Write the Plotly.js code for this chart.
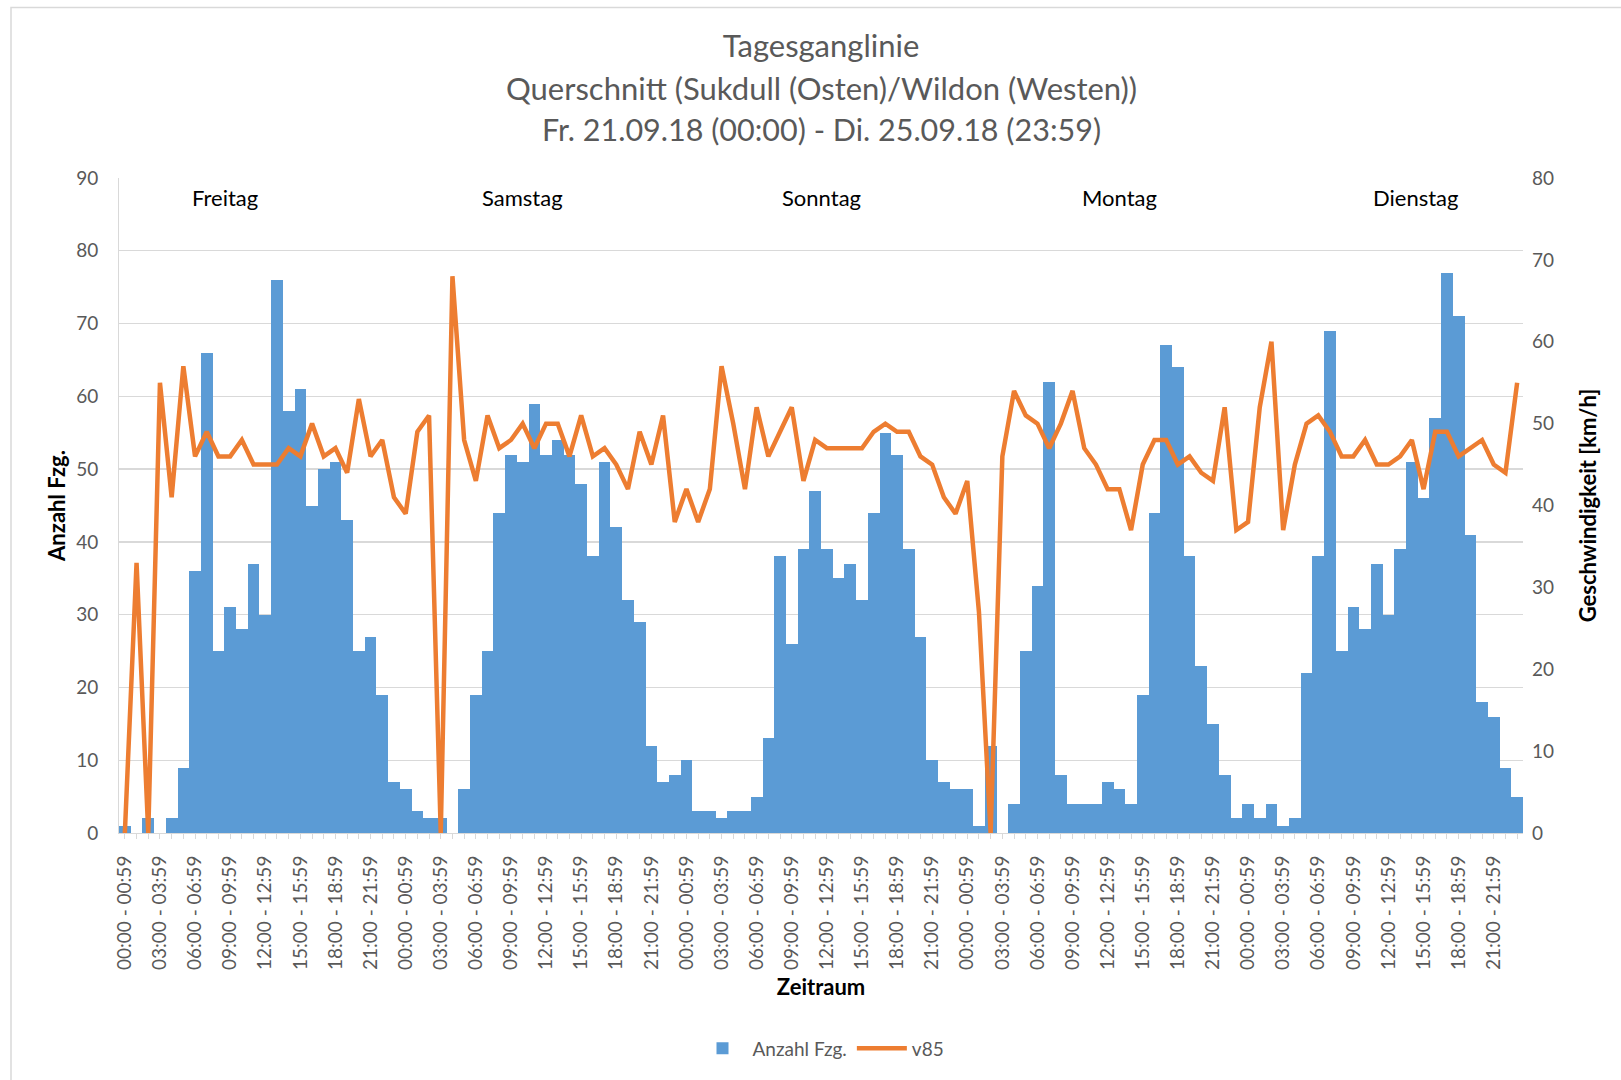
<!DOCTYPE html>
<html>
<head>
<meta charset="utf-8">
<script src="https://cdn.plot.ly/plotly-3.0.1.min.js"></script>
<style>
  html, body { margin: 0; padding: 0; background: #ffffff; }
  #chart { width: 1621px; height: 1080px; }
</style>
</head>
<body>
<div id="chart"></div>
<script>
// ---- Data ----
const hourLabels = [
  '00:00 - 00:59','01:00 - 01:59','02:00 - 02:59','03:00 - 03:59','04:00 - 04:59','05:00 - 05:59',
  '06:00 - 06:59','07:00 - 07:59','08:00 - 08:59','09:00 - 09:59','10:00 - 10:59','11:00 - 11:59',
  '12:00 - 12:59','13:00 - 13:59','14:00 - 14:59','15:00 - 15:59','16:00 - 16:59','17:00 - 17:59',
  '18:00 - 18:59','19:00 - 19:59','20:00 - 20:59','21:00 - 21:59','22:00 - 22:59','23:00 - 23:59'
];
const days = ['Freitag', 'Samstag', 'Sonntag', 'Montag', 'Dienstag'];

// Anzahl Fzg. per hour (Fr 21.09.18 00:00 ... Di 25.09.18 23:59)
const anzahlFreitag  = [1,0,2,0,2,9,36,66,25,31,28,37,30,76,58,61,45,50,51,43,25,27,19,7];
const anzahlSamstag  = [6,3,2,2,0,6,19,25,44,52,51,59,52,54,52,48,38,51,42,32,29,12,7,8];
const anzahlSonntag  = [10,3,3,2,3,3,5,13,38,26,39,47,39,35,37,32,44,55,52,39,27,10,7,6];
const anzahlMontag   = [6,1,12,0,4,25,34,62,8,4,4,4,7,6,4,19,44,67,64,38,23,15,8,2];
const anzahlDienstag = [4,2,4,1,2,22,38,69,25,31,28,37,30,39,51,46,57,77,71,41,18,16,9,5];

// v85 [km/h] per hour
const v85Freitag  = [0,33,0,55,41,57,46,49,46,46,48,45,45,45,47,46,50,46,47,44,53,46,48,41];
const v85Samstag  = [39,49,51,0,68,48,43,51,47,48,50,47,50,50,46,51,46,47,45,42,49,45,51,38];
const v85Sonntag  = [42,38,42,57,50,42,52,46,49,52,43,48,47,47,47,47,49,50,49,49,46,45,41,39];
const v85Montag   = [43,27,0,46,54,51,50,47,50,54,47,45,42,42,37,45,48,48,45,46,44,43,52,37];
const v85Dienstag = [38,52,60,37,45,50,51,49,46,46,48,45,45,46,48,42,49,49,46,47,48,45,44,55];

const tickStep = 3;

// ---- Build series ----
const anzahl = [].concat(anzahlFreitag, anzahlSamstag, anzahlSonntag, anzahlMontag, anzahlDienstag);
const v85 = [].concat(v85Freitag, v85Samstag, v85Sonntag, v85Montag, v85Dienstag);
const xIdx = anzahl.map((_, i) => i);
const tickvals = [], ticktext = [];
for (let i = 0; i < xIdx.length; i += tickStep) {
  tickvals.push(i);
  ticktext.push(hourLabels[i % 24]);
}

const FONT = 'Lato, "Open Sans", sans-serif';
const GRAY = '#595959';
const GRID = '#d9d9d9';

const traces = [
  {
    type: 'bar', name: 'Anzahl Fzg.', x: xIdx, y: anzahl,
    marker: { color: '#5B9BD5', line: { width: 0 } },
    yaxis: 'y', hoverinfo: 'x+y'
  },
  {
    type: 'scatter', mode: 'lines', name: 'v85', x: xIdx, y: v85,
    line: { color: '#ED7D31', width: 4.5 },
    yaxis: 'y2', hoverinfo: 'x+y'
  }
];

// plot area geometry used for positioning texts in paper coords
const PL = 119, PR = 1523, PT = 178, PB = 835;
const pH = PB - PT, pW = PR - PL;
const py = (pix) => (PB - pix) / pH;
const px = (pix) => (pix - PL) / pW;

const dayLabelX = [8.6, 34.0, 59.5, 85.0, 110.3];

const annotations = [
  { text: 'Querschnitt (Sukdull (Osten)/Wildon (Westen))', xref: 'paper', yref: 'paper',
    x: 0.5, y: py(88), xanchor: 'center', yanchor: 'middle', showarrow: false,
    font: { family: FONT, size: 31, color: GRAY } },
  { text: 'Fr. 21.09.18 (00:00) - Di. 25.09.18 (23:59)', xref: 'paper', yref: 'paper',
    x: 0.5, y: py(129), xanchor: 'center', yanchor: 'middle', showarrow: false,
    font: { family: FONT, size: 30.5, color: GRAY } }
];
days.forEach((d, k) => {
  annotations.push({
    text: d, xref: 'x', yref: 'paper', x: dayLabelX[k], y: py(197.5),
    xanchor: 'center', yanchor: 'middle', showarrow: false,
    font: { family: FONT, size: 22, color: '#000000' }
  });
});

const layout = {
  width: 1621, height: 1080,
  margin: { l: PL, r: 1621 - PR, t: PT, b: 1080 - PB, pad: 0 },
  paper_bgcolor: '#ffffff', plot_bgcolor: '#ffffff',
  font: { family: FONT, color: GRAY, size: 19 },
  title: {
    text: 'Tagesganglinie', font: { family: FONT, size: 31, color: GRAY },
    xref: 'paper', x: 0.5, xanchor: 'center',
    yref: 'container', y: 1 - 46.5 / 1080, yanchor: 'middle'
  },
  bargap: 0,
  showlegend: true,
  legend: {
    orientation: 'h', x: 0.5, xanchor: 'center', y: py(1051), yanchor: 'middle',
    font: { family: FONT, size: 19, color: GRAY }, bgcolor: 'rgba(0,0,0,0)',
    itemwidth: 50
  },
  xaxis: {
    range: [-0.5, xIdx.length - 0.5],
    tickmode: 'array', tickvals: tickvals, ticktext: ticktext,
    tickangle: -90, tickfont: { family: FONT, size: 19, color: GRAY },
    ticks: 'outside', ticklen: 5, tickcolor: GRID, tickwidth: 1,
    minor: { tickmode: 'linear', tick0: 0, dtick: 1, ticks: 'outside', ticklen: 5, tickcolor: GRID, showgrid: false },
    ticklabelstandoff: 9,
    showline: true, linecolor: GRID, linewidth: 1,
    showgrid: false, zeroline: false,
    title: { text: 'Zeitraum', font: { family: FONT, size: 22, color: '#000000', weight: 'bold' }, standoff: 10 },
    fixedrange: true
  },
  yaxis: {
    range: [0, 90], tickmode: 'linear', tick0: 0, dtick: 10,
    tickfont: { family: FONT, size: 19, color: GRAY },
    ticks: '', ticklabelstandoff: 16,
    showline: true, linecolor: GRID, linewidth: 1,
    showgrid: true, gridcolor: GRID, gridwidth: 1.3, zeroline: false,
    title: { text: 'Anzahl Fzg.', font: { family: FONT, size: 22, color: '#000000', weight: 'bold' }, standoff: 4 },
    fixedrange: true
  },
  yaxis2: {
    range: [0, 80], tickmode: 'linear', tick0: 0, dtick: 10,
    overlaying: 'y', side: 'right',
    tickfont: { family: FONT, size: 19, color: GRAY },
    ticks: '', ticklabelstandoff: 8,
    showline: false, showgrid: false, zeroline: false,
    title: { text: 'Geschwindigkeit [km/h]', font: { family: FONT, size: 22, color: '#000000', weight: 'bold' }, standoff: 27 },
    fixedrange: true
  },
  annotations: annotations,
  shapes: [
    { type: 'rect', xref: 'paper', yref: 'paper', layer: 'below',
      x0: px(11), x1: px(1640), y0: py(1100), y1: py(7),
      line: { color: '#d9d9d9', width: 1.5 }, fillcolor: 'rgba(0,0,0,0)' }
  ]
};

Plotly.newPlot('chart', traces, layout, { displayModeBar: false, staticPlot: true });
</script>
</body>
</html>
